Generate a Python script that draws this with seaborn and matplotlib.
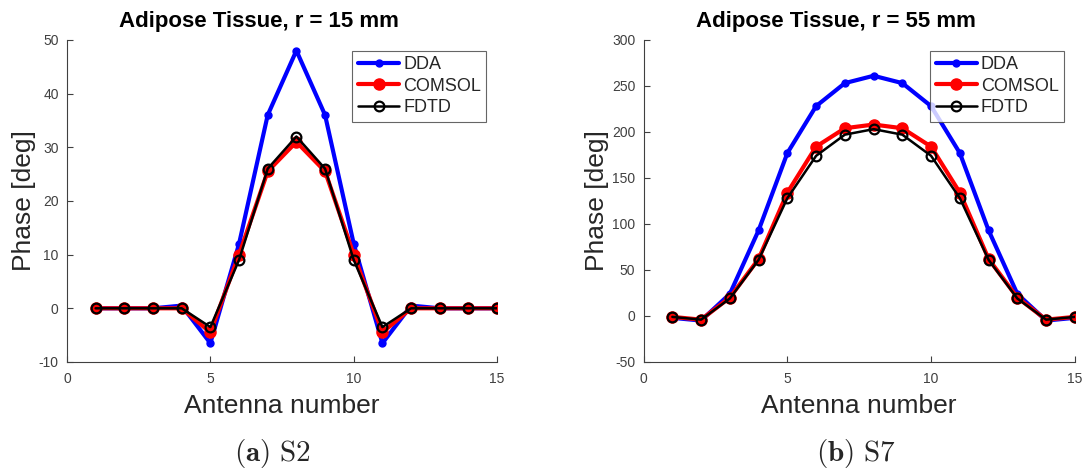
import numpy as np
import pandas as pd
import matplotlib
matplotlib.use("Agg")
import matplotlib.pyplot as plt
import seaborn as sns

antenna = list(range(1, 16))

# Panel (a): r = 15 mm
dda_15 = [0, 0, 0, 0.5, -6.5, 12, 36, 48, 36, 12, -6.5, 0.5, 0, 0, 0]
comsol_15 = [0, 0, 0, 0, -4.5, 10, 25.5, 31, 25.5, 10, -4.5, 0, 0, 0, 0]
fdtd_15 = [0, 0, 0, 0, -3.5, 9, 26, 32, 26, 9, -3.5, 0, 0, 0, 0]

# Panel (b): r = 55 mm
dda_55 = [-2, -5, 24, 93, 177, 228, 253, 261, 253, 228, 177, 93, 24, -5, -2]
comsol_55 = [-1, -4, 20, 62, 134, 184, 204, 208, 204, 184, 134, 62, 20, -4, -1]
fdtd_55 = [-1, -4, 19, 61, 128, 174, 197, 203, 197, 174, 128, 61, 19, -4, -1]

methods = ["DDA", "COMSOL", "FDTD"]
titles = ["Adipose Tissue, r = 15 mm", "Adipose Tissue, r = 55 mm"]
captions = [r"$\mathbf{(a)}\ \mathrm{S2}$", r"$\mathbf{(b)}\ \mathrm{S7}$"]
ylims = [(-10, 50), (-50, 300)]
yticks = [list(range(-10, 51, 10)), list(range(-50, 301, 50))]
xticks = [0, 5, 10, 15]

sns.set_theme(style="white")
plt.rcParams["font.family"] = ["Liberation Sans", "DejaVu Sans"]
plt.rcParams["mathtext.fontset"] = "cm"
plt.rcParams["axes.unicode_minus"] = False

fig = plt.figure(figsize=(10.89, 4.73), dpi=100)
ax1 = fig.add_axes([0.0615, 0.2347, 0.395, 0.681])
ax2 = fig.add_axes([0.591, 0.2347, 0.396, 0.681])

styles = {
    "DDA": dict(color="#0000ff", lw=3.0, marker="o", ms=5, mfc="#0000ff", mec="#0000ff", mew=1),
    "COMSOL": dict(color="#ff0000", lw=3.0, marker="o", ms=8, mfc="#ff0000", mec="#ff0000", mew=1),
    "FDTD": dict(color="black", lw=1.8, marker="o", ms=7, mfc="none", mec="black", mew=1.6),
}

datasets = [(dda_15, comsol_15, fdtd_15), (dda_55, comsol_55, fdtd_55)]
for i, (ax, data) in enumerate(zip([ax1, ax2], datasets)):
    df = pd.DataFrame({
        "Antenna": antenna * 3,
        "Phase": list(data[0]) + list(data[1]) + list(data[2]),
        "Method": ["DDA"] * 15 + ["COMSOL"] * 15 + ["FDTD"] * 15,
    })
    for m in methods:
        st = styles[m]
        sns.lineplot(data=df[df["Method"] == m], x="Antenna", y="Phase", ax=ax,
                     color=st["color"], linewidth=st["lw"], marker=st["marker"],
                     markersize=st["ms"], markerfacecolor=st["mfc"],
                     markeredgecolor=st["mec"], markeredgewidth=st["mew"],
                     label=m, estimator=None)
    ax.set_xlim(0, 15)
    ax.set_ylim(*ylims[i])
    ax.set_xticks(xticks)
    ax.set_yticks(yticks[i])
    ax.tick_params(axis="both", direction="in", length=4, width=0.8,
                   labelsize=10, colors="#404040", bottom=True, left=True)
    ax.tick_params(axis="x", pad=7)
    ax.tick_params(axis="y", pad=6)
    for s in ["top", "right"]:
        ax.spines[s].set_visible(False)
    for s in ["left", "bottom"]:
        ax.spines[s].set_color("#404040")
        ax.spines[s].set_linewidth(0.8)
    ax.set_title(titles[i], fontsize=16, fontweight="bold", pad=9, color="black", x=0.447)
    ax.set_xlabel("Antenna number", fontsize=19, labelpad=6, color="#262626")
    ax.set_ylabel("Phase [deg]", fontsize=19, labelpad=2, color="#262626")
    leg = ax.legend(loc="upper right", fontsize=13, frameon=True, fancybox=False,
                    borderpad=0.3, handlelength=2.3, handletextpad=0.2,
                    labelspacing=0.25, borderaxespad=0.6)
    leg.get_frame().set_edgecolor("#404040")
    leg.get_frame().set_linewidth(0.8)

fig.text(0.25, 0.042, captions[0], fontsize=21, ha="center", va="center")
fig.text(0.786, 0.042, captions[1], fontsize=21, ha="center", va="center")

fig.savefig("out.png", dpi=100)
